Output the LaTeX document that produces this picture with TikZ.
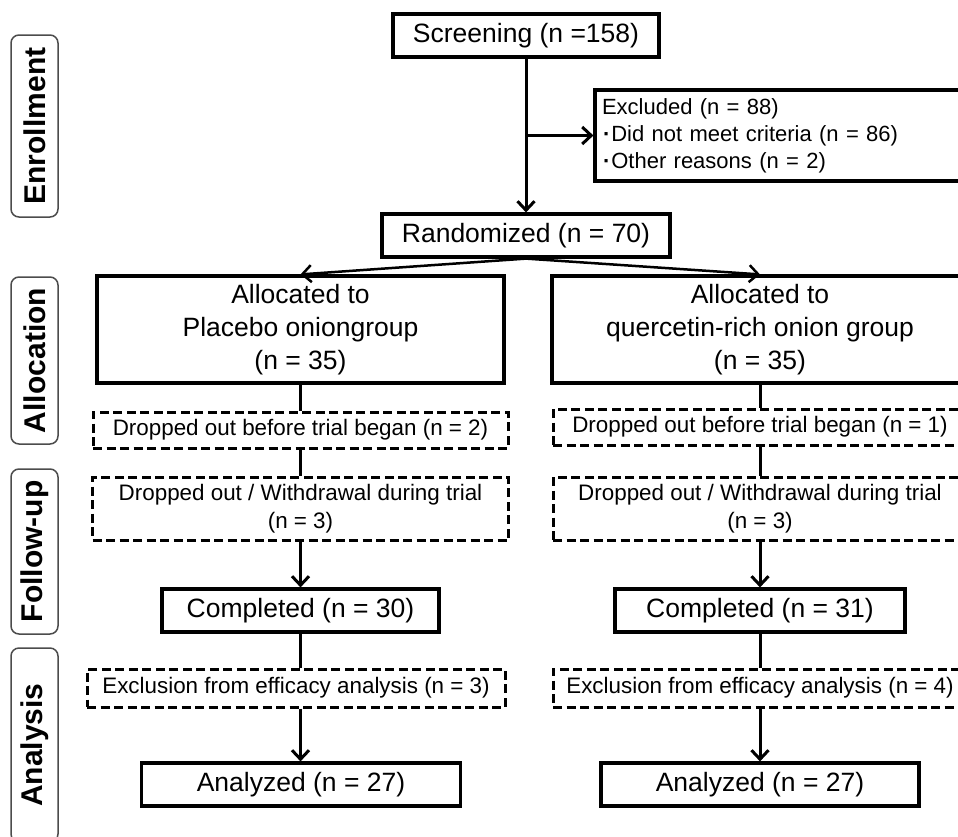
\documentclass[tikz,border=0pt]{standalone}
\usepackage{fontspec}
\setmainfont{Liberation Sans}
\usetikzlibrary{arrows.meta}
\tikzset{
  box/.style={draw, line width=3.2pt, inner sep=0pt, align=center, font=\fontsize{26.5}{33}\selectfont},
  dbox/.style={draw, line width=3pt, dash pattern=on 9pt off 4.5pt, inner sep=0pt, align=center, font=\fontsize{22.4}{28}\selectfont},
  side/.style={draw=black!70, line width=1.5pt, rounded corners=8pt, rotate=90, inner sep=0pt, minimum height=47pt, font=\fontsize{30}{30}\selectfont\bfseries},
  conn/.style={line width=3pt},
  arr/.style={line width=3pt, -{Straight Barb[length=9pt,width=17pt]}},
  sarr/.style={line width=2.5pt, -{Straight Barb[length=9pt,width=17pt]}}
}
\newcommand{\mydot}{\hspace*{1pt}\textbf{·}\hspace{1pt}}
\begin{document}
\begin{tikzpicture}[x=1pt,y=-1pt]
\path[use as bounding box, clip] (0,0) rectangle (958,836);
% side labels
\node[side, minimum width=182pt] (senr) at (34.5,126) {Enrollment};
\node[side, minimum width=167pt] (salloc) at (34.5,360.5) {Allocation};
\node[side, minimum width=165pt] (sfol) at (34.5,551.5) {Follow-up};
\node[side, minimum width=194pt] (sana) at (34.5,745) {Analysis};
% main boxes
\node[box, minimum width=266pt, minimum height=43pt] (screen) at (526,35.5) {Screening (n =158)};
\node[box, minimum width=380pt, minimum height=91pt, text width=366pt, inner xsep=7pt, align=left, font=\fontsize{22}{27}\selectfont] (excl) at (785,135.5)
  {Excluded (n = 88)\\\mydot Did not meet criteria (n = 86)\\\mydot Other reasons (n = 2)};
\node[box, minimum width=288pt, minimum height=43pt] (rand) at (526,235.5) {Randomized (n = 70)};
\node[box, minimum width=407pt, minimum height=107pt] (allocL) at (300.5,329.5) {Allocated to\\Placebo oniongroup\\(n = 35)};
\node[box, minimum width=416pt, minimum height=107pt] (allocR) at (760,329.5) {Allocated to\\quercetin-rich onion group\\(n = 35)};
\node[dbox, minimum width=415pt, minimum height=36pt] (dbL) at (300.5,430) {Dropped out before trial began (n = 2)};
\node[dbox, minimum width=414pt, minimum height=36pt] (dbR) at (760,427) {Dropped out before trial began (n = 1)};
\node[dbox, minimum width=416pt, minimum height=63pt] (ddL) at (300.5,508.5) {Dropped out / Withdrawal during trial\\(n = 3)};
\node[dbox, minimum width=414pt, minimum height=63pt] (ddR) at (760,508.5) {Dropped out / Withdrawal during trial\\(n = 3)};
\node[box, minimum width=277pt, minimum height=43pt] (compL) at (300.5,610.5) {Completed (n = 30)};
\node[box, minimum width=290pt, minimum height=43pt] (compR) at (760,610.5) {Completed (n = 31)};
\node[dbox, minimum width=418pt, minimum height=38pt] (exL) at (296,688) {Exclusion from efficacy analysis (n = 3)};
\node[dbox, minimum width=414pt, minimum height=38pt] (exR) at (760,688) {Exclusion from efficacy analysis (n = 4)};
\node[box, minimum width=319pt, minimum height=43pt] (anL) at (301,784.5) {Analyzed (n = 27)};
\node[box, minimum width=318pt, minimum height=43pt] (anR) at (760,784.5) {Analyzed (n = 27)};
% connectors
\draw[arr] (screen.south) -- (rand.north);
\coordinate (br) at (screen.south |- excl.west);
\draw[arr] (br) -- (excl.west);
\draw[sarr] (rand.south) -- (allocL.north);
\draw[sarr] (rand.south) -- (allocR.north);
\draw[conn] (allocL.south) -- (allocL.south |- dbL.north);
\draw[conn] (allocR.south) -- (allocR.south |- dbR.north);
\draw[conn] (allocL.south |- dbL.south) -- (allocL.south |- ddL.north);
\draw[conn] (allocR.south |- dbR.south) -- (allocR.south |- ddR.north);
\draw[arr] (allocL.south |- ddL.south) -- (allocL.south |- compL.north);
\draw[arr] (allocR.south |- ddR.south) -- (allocR.south |- compR.north);
\draw[conn] (compL.south) -- (compL.south |- exL.north);
\draw[conn] (compR.south) -- (compR.south |- exR.north);
\draw[arr] (compL.south |- exL.south) -- (compL.south |- anL.north);
\draw[arr] (compR.south |- exR.south) -- (compR.south |- anR.north);
\end{tikzpicture}
\end{document}
